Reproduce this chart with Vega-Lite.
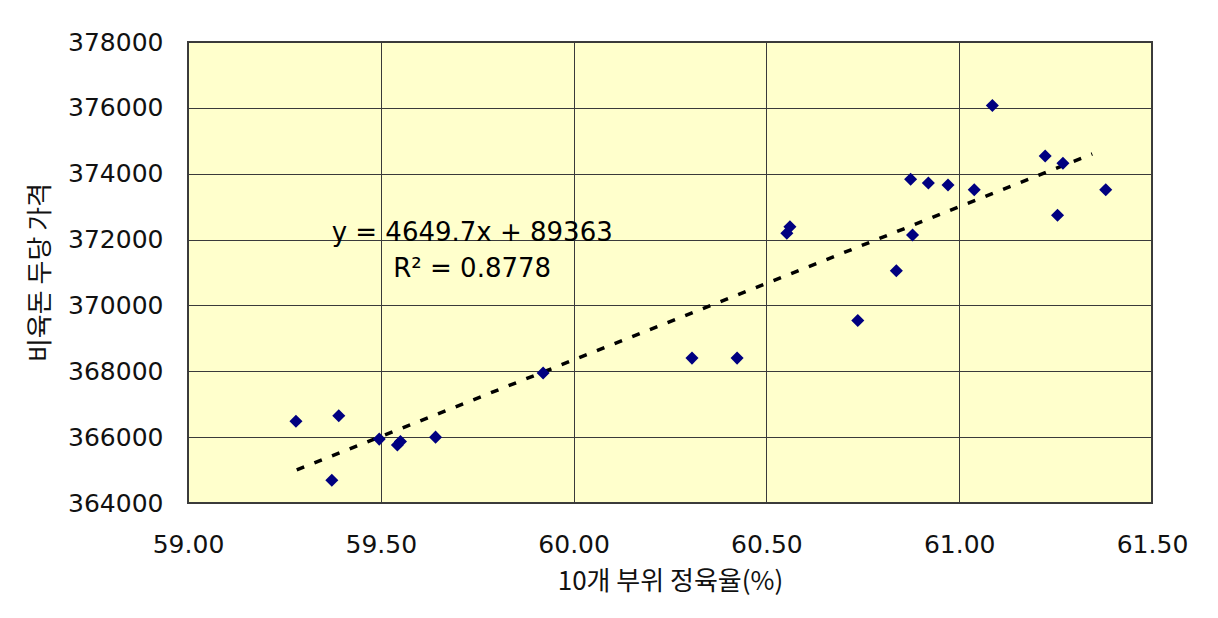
{
  "$schema": "https://vega.github.io/schema/vega-lite/v6.json",
  "autosize": {"type": "none"},
  "width": 964,
  "height": 461,
  "padding": {"left": 188, "top": 42, "right": 66, "bottom": 115},
  "background": "white",
  "config": {
    "view": {"fill": "#FFFFCC", "stroke": "#3c3c3c", "strokeWidth": 2},
    "axis": {"gridColor": "#3a3a3a", "gridWidth": 1, "gridOpacity": 1, "domain": false, "ticks": false, "tickSize": 0,
      "labelFlush": false, "labelOverlap": false, "labelBound": false,
      "labelFont": "DejaVu Sans", "labelFontSize": 25, "labelColor": "#111", "titleFont": "Noto Sans CJK KR", "titleFontSize": 26, "titleFontWeight": "normal", "titleColor": "#111"}
  },
  "datasets": {
    "pts": [
      {"rate": 59.280, "price": 366480},
      {"rate": 59.373, "price": 364690},
      {"rate": 59.391, "price": 366650},
      {"rate": 59.496, "price": 365940},
      {"rate": 59.543, "price": 365760},
      {"rate": 59.551, "price": 365870},
      {"rate": 59.642, "price": 366000},
      {"rate": 59.921, "price": 367950},
      {"rate": 60.307, "price": 368400},
      {"rate": 60.424, "price": 368400},
      {"rate": 60.553, "price": 372190},
      {"rate": 60.561, "price": 372390},
      {"rate": 60.737, "price": 369540},
      {"rate": 60.837, "price": 371050},
      {"rate": 60.874, "price": 373830},
      {"rate": 60.879, "price": 372140},
      {"rate": 60.920, "price": 373720},
      {"rate": 60.971, "price": 373660},
      {"rate": 61.039, "price": 373510},
      {"rate": 61.086, "price": 376070},
      {"rate": 61.223, "price": 374540},
      {"rate": 61.255, "price": 372740},
      {"rate": 61.269, "price": 374320},
      {"rate": 61.380, "price": 373510}
    ],
    "trend": [
      {"rate": 59.282, "price": 365006},
      {"rate": 61.345, "price": 374599}
    ],
    "notes": [
      {"rate": 59.737, "price": 372200, "label": "y = 4649.7x + 89363"},
      {"rate": 59.737, "price": 371110, "label": "R² = 0.8778"}
    ]
  },
  "layer": [
    {
      "data": {"name": "trend"},
      "mark": {"type": "line", "color": "#000000", "strokeWidth": 3.5, "strokeDash": [8, 11], "strokeCap": "butt"},
      "encoding": {
        "x": {"field": "rate", "type": "quantitative", "scale": {"domain": [59, 61.5], "nice": false, "zero": false},
          "axis": {"values": [59, 59.5, 60, 60.5, 61, 61.5], "format": ".2f", "labelPadding": 29, "title": "10개 부위 정육율(%)", "titleY": 78, "titleBaseline": "middle", "labelBaseline": "top"}},
        "y": {"field": "price", "type": "quantitative", "scale": {"domain": [364000, 378000], "nice": false, "zero": false},
          "axis": {"values": [364000, 366000, 368000, 370000, 372000, 374000, 376000, 378000], "format": "d", "labelPadding": 25, "title": "비육돈 두당 가격", "titleX": -148, "titleY": 230, "titleAngle": -90, "titleBaseline": "middle", "titleAlign": "center"}}
      }
    },
    {
      "data": {"name": "pts"},
      "mark": {"type": "point", "shape": "diamond", "filled": true, "color": "#000080", "size": 170, "opacity": 1},
      "encoding": {
        "x": {"field": "rate", "type": "quantitative"},
        "y": {"field": "price", "type": "quantitative"}
      }
    },
    {
      "data": {"name": "notes"},
      "mark": {"type": "text", "font": "DejaVu Sans", "fontSize": 26, "color": "#000000", "align": "center", "baseline": "middle"},
      "encoding": {
        "x": {"field": "rate", "type": "quantitative"},
        "y": {"field": "price", "type": "quantitative"},
        "text": {"field": "label"}
      }
    }
  ]
}
